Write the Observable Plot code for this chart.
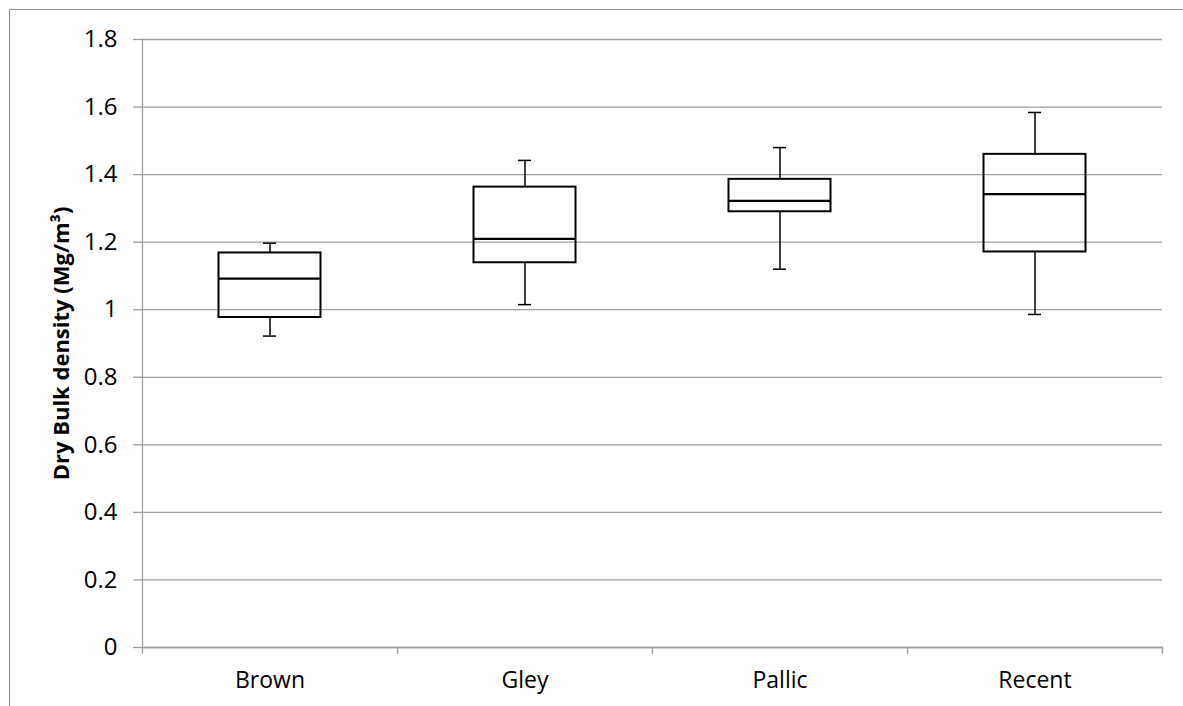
<!DOCTYPE html>
<html>
<head>
<meta charset="utf-8">
<script src="https://cdn.jsdelivr.net/npm/d3@7"></script>
<script src="https://cdn.jsdelivr.net/npm/@observablehq/plot@0.6"></script>
<style>
  html, body { margin: 0; padding: 0; background: #fff; overflow: hidden; }
  #wrap { position: relative; width: 1183px; height: 706px; }
  #border { position: absolute; left: 9px; top: 9px; width: 2000px; height: 2000px;
            border-left: 1px solid #8c8c8c; border-top: 1px solid #8c8c8c; pointer-events: none; }
</style>
</head>
<body>
<div id="wrap"><div id="chart"></div><div id="border"></div></div>
<script>
const categories = ["Brown", "Gley", "Pallic", "Recent"];
const minValues    = [0.922, 1.015, 1.120, 0.986];
const q1Values     = [0.977, 1.139, 1.290, 1.171];
const medianValues = [1.092, 1.210, 1.322, 1.342];
const q3Values     = [1.168, 1.363, 1.386, 1.460];
const maxValues    = [1.197, 1.442, 1.480, 1.584];
const yTicks = [0, 0.2, 0.4, 0.6, 0.8, 1, 1.2, 1.4, 1.6, 1.8];

const data = categories.map((c, i) => ({
  cat: c, min: minValues[i], q1: q1Values[i], med: medianValues[i], q3: q3Values[i], max: maxValues[i]
}));

const W = 1183, H = 706;
const mL = 142, mR = 21, mT = 39, mB = 59;
const band = (W - mL - mR) / categories.length;
const boxInset = (band - 102) / 2;
const capInset = (band - 13) / 2;
const grid = "#a0a0a0";
const font = "'Open Sans', sans-serif";

const chart = Plot.plot({
  width: W, height: H,
  marginLeft: mL, marginRight: mR, marginTop: mT, marginBottom: mB,
  style: { fontFamily: font, fontSize: "22px", color: "#000", background: "#fff" },
  x: { type: "band", domain: categories, padding: 0, label: null },
  y: { domain: [0, 1.8], label: null },
  marks: [
    Plot.gridY(yTicks, { stroke: grid, strokeOpacity: 1, strokeWidth: 1.3 }),
    Plot.axisY(yTicks, { tickSize: 9, tickPadding: 16, stroke: grid, strokeOpacity: 1, strokeWidth: 1.3,
      tickFormat: d => String(d), fontSize: 24, fill: "#000" }),
    Plot.axisX({ tickSize: 0, tickPadding: 24, fontSize: 23, fill: "#000" }),
    Plot.frame({ anchor: "left", stroke: grid, strokeWidth: 1.3 }),
    Plot.frame({ anchor: "bottom", stroke: grid, strokeWidth: 1.3 }),
    Plot.ruleX(categories, { x: d => d, dx: -band / 2, y1: 0, y2: -0.02, stroke: grid, strokeWidth: 1.3 }),
    Plot.ruleX(categories.slice(-1), { x: d => d, dx: band / 2, y1: 0, y2: -0.02, stroke: grid, strokeWidth: 1.3 }),
    // whiskers
    Plot.ruleX(data, { x: "cat", y1: "min", y2: "q1", stroke: "#000", strokeWidth: 1.5 }),
    Plot.ruleX(data, { x: "cat", y1: "q3", y2: "max", stroke: "#000", strokeWidth: 1.5 }),
    Plot.tickY(data, { x: "cat", y: "min", inset: capInset, stroke: "#000", strokeWidth: 1.5 }),
    Plot.tickY(data, { x: "cat", y: "max", inset: capInset, stroke: "#000", strokeWidth: 1.5 }),
    // boxes
    Plot.barY(data, { x: "cat", y1: "q1", y2: "q3", insetLeft: boxInset, insetRight: boxInset,
      fill: "none", stroke: "#000", strokeWidth: 2 }),
    Plot.tickY(data, { x: "cat", y: "med", inset: boxInset, stroke: "#000", strokeWidth: 2.2 }),
    // y title
    Plot.text(["Dry Bulk density (Mg/m³)"], { frameAnchor: "left", textAnchor: "middle", dx: -81, rotate: -90,
      fontWeight: "bold", fontSize: 22, fill: "#000" })
  ]
});
document.getElementById("chart").appendChild(chart);
</script>
</body>
</html>
